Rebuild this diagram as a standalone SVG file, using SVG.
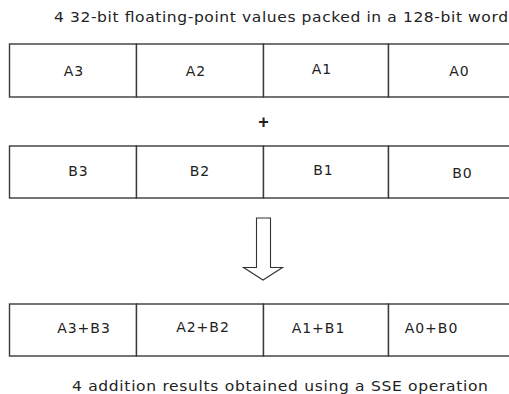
<svg xmlns="http://www.w3.org/2000/svg" width="509" height="394" viewBox="0 0 509 394">
<style>
.cell{fill:#fff;stroke:#3a3a3a;stroke-width:1.4}
.t{font-family:"DejaVu Sans",Verdana,sans-serif;font-size:14px;letter-spacing:1px;fill:#222;text-anchor:middle}
.cap{font-family:"DejaVu Sans",Verdana,sans-serif;font-size:13.5px;fill:#222}
.arrow{fill:#fff;stroke:#333;stroke-width:1.1}
</style>
<rect width="509" height="394" fill="#fff"/>
<text class="cap" transform="translate(54,22) scale(1.15,1)" textLength="394.8" lengthAdjust="spacing">4 32-bit floating-point values packed in a 128-bit word</text>
<g id="rowA">
<rect class="cell" x="9.5" y="44" width="127" height="53"/>
<rect class="cell" x="136.5" y="44" width="127" height="53"/>
<rect class="cell" x="263.5" y="44" width="125" height="53"/>
<rect class="cell" x="388.5" y="44" width="135" height="53"/>
<text class="t" x="74" y="76">A3</text>
<text class="t" x="196" y="76">A2</text>
<text class="t" x="322" y="73.5">A1</text>
<text class="t" x="459.5" y="76">A0</text>
</g>
<text id="plus" x="263.5" y="127.5" text-anchor="middle" style="font-family:'Liberation Sans',Arial,sans-serif;font-size:18px;font-weight:bold;fill:#222">+</text>
<g id="rowB">
<rect class="cell" x="9.5" y="146" width="127" height="52"/>
<rect class="cell" x="136.5" y="146" width="127" height="52"/>
<rect class="cell" x="263.5" y="146" width="125" height="52"/>
<rect class="cell" x="388.5" y="146" width="135" height="52"/>
<text class="t" x="78.5" y="175.5">B3</text>
<text class="t" x="200" y="175.5">B2</text>
<text class="t" x="323.5" y="175">B1</text>
<text class="t" x="462.5" y="178">B0</text>
</g>
<g id="connectors">
<path class="arrow" d="M256.5,218 H270.5 V267.5 H282.5 L263,280 L243.5,267.5 H256.5 Z"/>
</g>
<g id="rowC">
<rect class="cell" x="9.5" y="304" width="127" height="52"/>
<rect class="cell" x="136.5" y="304" width="127" height="52"/>
<rect class="cell" x="263.5" y="304" width="125" height="52"/>
<rect class="cell" x="388.5" y="304" width="135" height="52"/>
<text class="t" x="84" y="333">A3+B3</text>
<text class="t" x="203" y="331.5">A2+B2</text>
<text class="t" x="318.5" y="333">A1+B1</text>
<text class="t" x="431.5" y="333">A0+B0</text>
</g>
<text class="cap" transform="translate(72,391) scale(1.15,1)" textLength="361.7" lengthAdjust="spacing">4 addition results obtained using a SSE operation</text>
</svg>
